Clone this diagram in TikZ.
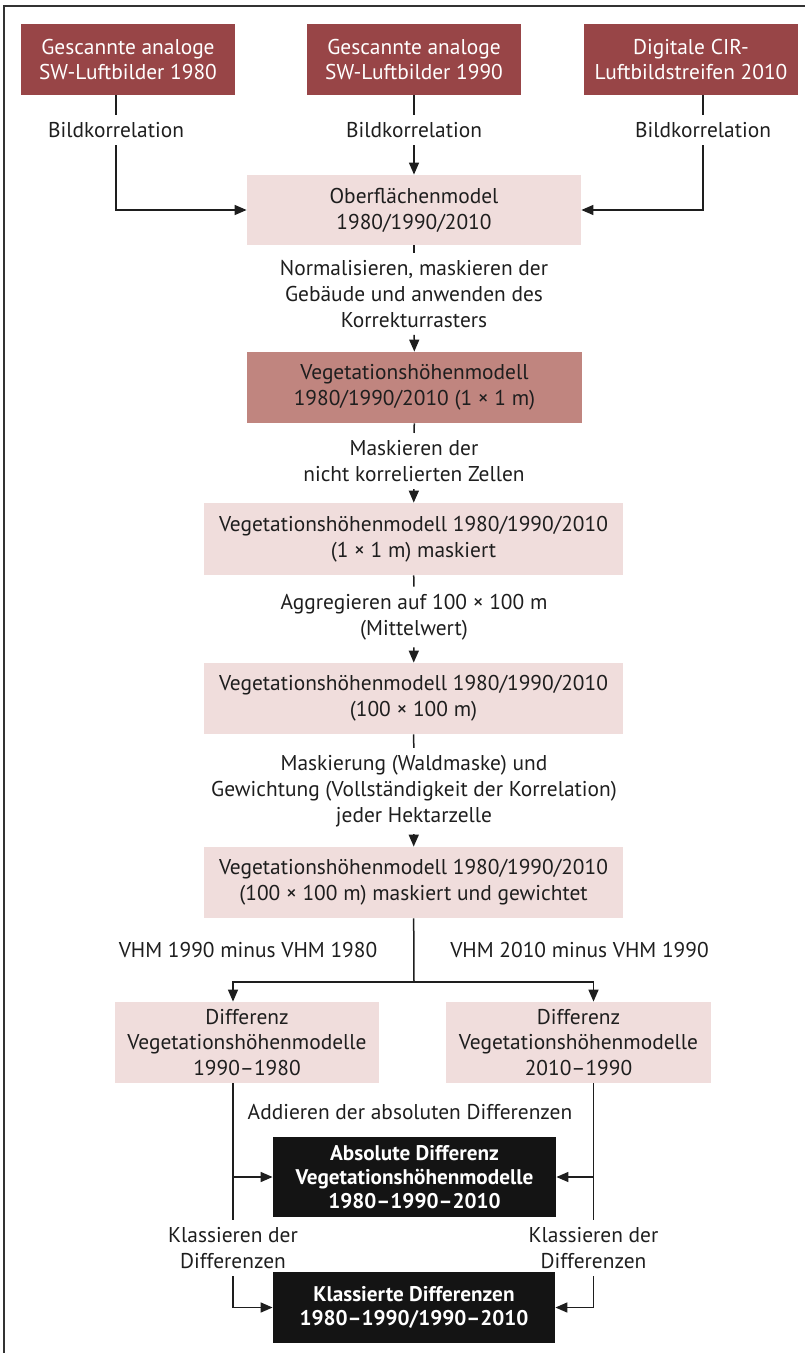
\documentclass[tikz,border=0pt]{standalone}
\usepackage{fontspec}
\setmainfont{PT Sans}
\usetikzlibrary{arrows.meta}
\usetikzlibrary{calc}

\definecolor{dunkelrot}{HTML}{984547}
\definecolor{mittelrot}{HTML}{C0857F}
\definecolor{hellrosa}{HTML}{F0DDDC}
\definecolor{textgrau}{HTML}{1E1E1E}
\definecolor{rahmen}{HTML}{333333}

\tikzset{
  kasten/.style={rectangle, align=center, inner sep=2pt, text=textgrau},
  dunkel/.style={kasten, fill=dunkelrot, text=white, minimum width=107pt, minimum height=35.5pt},
  mittel/.style={kasten, fill=mittelrot, minimum width=167.5pt, minimum height=35.5pt},
  hell/.style={kasten, fill=hellrosa},
  schwarz/.style={kasten, fill=black!92, text=white, font=\fontsize{10.6pt}{12.2pt}\selectfont\bfseries},
  beschriftung/.style={align=center, inner sep=3.5pt, text=textgrau},
  linie/.style={line width=0.75pt, draw=textgrau},
  pfeil/.style={linie, -{Triangle[length=6pt,width=5pt]}}
}

\begin{document}
\begin{tikzpicture}[x=0.5pt, y=-0.5pt, font=\fontsize{10.7pt}{12.9pt}\selectfont]
    \useasboundingbox (0,0) rectangle (805,1353);

    % Rahmen (oben und links)
    \draw[line width=1pt, rahmen] (4,1353) -- (4,6) -- (805,6);

    % Eingangsdaten
    \node[dunkel] (sw80) at (128,59.5) {Gescannte analoge\\SW-Luftbilder 1980};
    \node[dunkel] (sw90) at (414,59.5) {Gescannte analoge\\SW-Luftbilder 1990};
    \node[dunkel] (cir10) at (691,59.5) {Digitale CIR-\\Luftbildstreifen 2010};

    \node[beschriftung] (bk80) at (116,130) {Bildkorrelation};
    \node[beschriftung] (bk90) at (414,130) {Bildkorrelation};
    \node[beschriftung] (bk10) at (703,130) {Bildkorrelation};

    \node[hell, minimum width=167pt, minimum height=35pt] (ober) at (414,210) {Oberflächenmodel\\1980/1990/2010};

    \draw[linie] (sw80.south -| bk80) -- (bk80);
    \draw[linie] (sw90) -- (bk90);
    \draw[linie] (cir10.south -| bk10) -- (bk10);
    \draw[pfeil] (bk80) |- (ober);
    \draw[pfeil] (bk90) -- (ober);
    \draw[pfeil] (bk10) |- (ober);

    % Vegetationshoehenmodelle
    \node[beschriftung] (norm) at (414,294) {Normalisieren, maskieren der\\Gebäude und anwenden des\\Korrekturrasters};
    \node[mittel] (vhm) at (414.5,387.5) {Vegetationshöhenmodell\\1980/1990/2010 (1 × 1 m)};
    \node[beschriftung] (mask) at (414,461) {Maskieren der\\nicht korrelierten Zellen};
    \node[hell, minimum width=209.5pt, minimum height=36pt] (vhmmask) at (413.5,539) {Vegetationshöhenmodell 1980/1990/2010\\(1 × 1 m) maskiert};
    \node[beschriftung] (aggr) at (414,617) {Aggregieren auf 100 × 100 m\\(Mittelwert)};
    \node[hell, minimum width=209.5pt, minimum height=35.5pt] (vhmha) at (413.5,698.5) {Vegetationshöhenmodell 1980/1990/2010\\(100 × 100 m)};
    \node[beschriftung] (gew) at (414,791) {Maskierung (Waldmaske) und\\Gewichtung (Vollständigkeit der Korrelation)\\jeder Hektarzelle};
    \node[hell, minimum width=209.5pt, minimum height=35.5pt] (vhmgew) at (413.5,882.5) {Vegetationshöhenmodell 1980/1990/2010\\(100 × 100 m) maskiert und gewichtet};

    \draw[linie] (ober) -- (norm);
    \draw[pfeil] (norm) -- (vhm);
    \draw[linie] (vhm) -- (mask);
    \draw[pfeil] (mask) -- (vhmmask);
    \draw[linie] (vhmmask) -- (aggr);
    \draw[pfeil] (aggr) -- (vhmha);
    \draw[linie] (vhmha) -- (gew);
    \draw[pfeil] (gew) -- (vhmgew);

    % Differenzen
    \coordinate (links) at (233,0);
    \coordinate (rechts) at (593.5,0);
    \coordinate (verzweigung) at (414,982);

    \node[beschriftung] (minus80) at (248,950) {VHM 1990 minus VHM 1980};
    \node[beschriftung] (minus90) at (579.5,950) {VHM 2010 minus VHM 1990};

    \node[hell, minimum width=132pt, minimum height=40.5pt] (dif80) at (247,1042.5) {Differenz\\Vegetationshöhenmodelle\\1990–1980};
    \node[hell, minimum width=132.5pt, minimum height=40.5pt] (dif90) at (578.5,1042.5) {Differenz\\Vegetationshöhenmodelle\\2010–1990};

    \draw[linie] (vhmgew) -- (verzweigung);
    \draw[pfeil] (verzweigung) -| (dif80.north -| links);
    \draw[pfeil] (verzweigung) -| (dif90.north -| rechts);

    \node[beschriftung] (add) at (410,1112) {Addieren der absoluten Differenzen};
    \node[schwarz, minimum width=141.5pt, minimum height=40pt] (absdif) at (414.5,1177) {Absolute Differenz\\Vegetationshöhenmodelle\\1980–1990–2010};

    \node[beschriftung] (klass80) at (233,1248) {Klassieren der\\Differenzen};
    \node[beschriftung] (klass90) at (593.5,1248) {Klassieren der\\Differenzen};

    \node[schwarz, minimum width=141pt, minimum height=35.5pt] (klassdif) at (414,1307.5) {Klassierte Differenzen\\1980–1990/1990–2010};

    \draw[linie] (dif80.south -| links) -- (klass80);
    \draw[linie] (dif90.south -| rechts) -- (klass90);
    \draw[pfeil] (links |- absdif) -- (absdif);
    \draw[pfeil] (rechts |- absdif) -- (absdif);
    \draw[pfeil] (klass80) |- (klassdif);
    \draw[pfeil] (klass90) |- (klassdif);
\end{tikzpicture}
\end{document}
